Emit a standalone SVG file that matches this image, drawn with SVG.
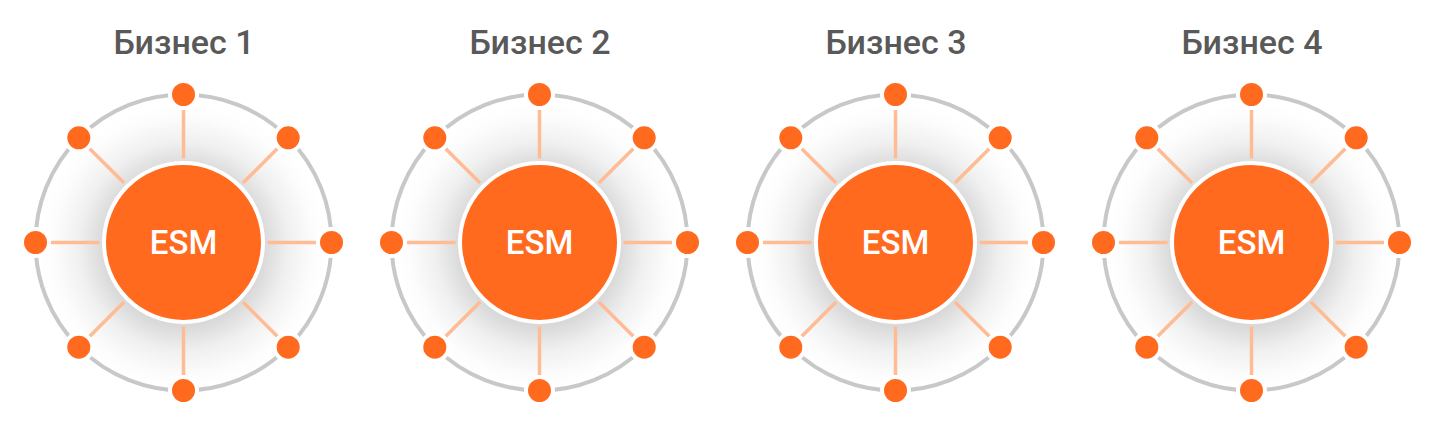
<svg xmlns="http://www.w3.org/2000/svg" width="1430" height="431" viewBox="0 0 1430 431">
<defs>
<radialGradient id="sh" cx="0.5" cy="0.5" r="0.5">
<stop offset="0.55" stop-color="#000" stop-opacity="0.15"/>
<stop offset="0.72" stop-color="#000" stop-opacity="0.06"/>
<stop offset="0.9" stop-color="#000" stop-opacity="0.01"/>
<stop offset="1" stop-color="#000" stop-opacity="0"/>
</radialGradient>
<g id="unit">
<circle cx="0" cy="4" r="145" fill="url(#sh)"/>
<circle cx="0" cy="0" r="148" fill="none" stroke="#C8C8C8" stroke-width="4"/>
<g class="spokes">
<line x1="0" y1="-84" x2="0" y2="-133"/>
<line x1="0" y1="84" x2="0" y2="133"/>
<line x1="-84" y1="0" x2="-133" y2="0"/>
<line x1="84" y1="0" x2="133" y2="0"/>
<line x1="59.4" y1="-59.4" x2="94" y2="-94"/>
<line x1="-59.4" y1="-59.4" x2="-94" y2="-94"/>
<line x1="59.4" y1="59.4" x2="94" y2="94"/>
<line x1="-59.4" y1="59.4" x2="-94" y2="94"/>
</g>
<circle cx="0" cy="0" r="79.5" fill="#FF6A1F" stroke="#fff" stroke-width="4"/>
<g class="node">
<circle cx="0" cy="-148" r="13.5"/>
<circle cx="0" cy="148" r="13.5"/>
<circle cx="-148" cy="0" r="13.5"/>
<circle cx="148" cy="0" r="13.5"/>
<circle cx="104.7" cy="-104.7" r="13.5"/>
<circle cx="-104.7" cy="-104.7" r="13.5"/>
<circle cx="104.7" cy="104.7" r="13.5"/>
<circle cx="-104.7" cy="104.7" r="13.5"/>
</g>
<text x="0" y="11.5" class="esm">ESM</text>
</g>
</defs>
<style>
.spokes line{stroke:#FFBC94;stroke-width:3.5}
.node circle{fill:#FF6A1F;stroke:#fff;stroke-width:4}
.esm{font-family:Roboto,"Liberation Sans",sans-serif;font-size:33px;font-weight:500;fill:#fff;text-anchor:middle}
.title{font-family:Roboto,"Liberation Sans",sans-serif;font-size:34px;font-weight:500;fill:#595959;text-anchor:middle}
</style>
<rect width="1430" height="431" fill="#fff"/>
<g id="connectors"></g>
<g id="b1"><text x="184" y="54" class="title">Бизнес 1</text><use href="#unit" x="183.5" y="242.5"/></g>
<g id="b2"><text x="540" y="54" class="title">Бизнес 2</text><use href="#unit" x="539.5" y="242.5"/></g>
<g id="b3"><text x="896" y="54" class="title">Бизнес 3</text><use href="#unit" x="895.5" y="242.5"/></g>
<g id="b4"><text x="1252" y="54" class="title">Бизнес 4</text><use href="#unit" x="1251.5" y="242.5"/></g>
</svg>
